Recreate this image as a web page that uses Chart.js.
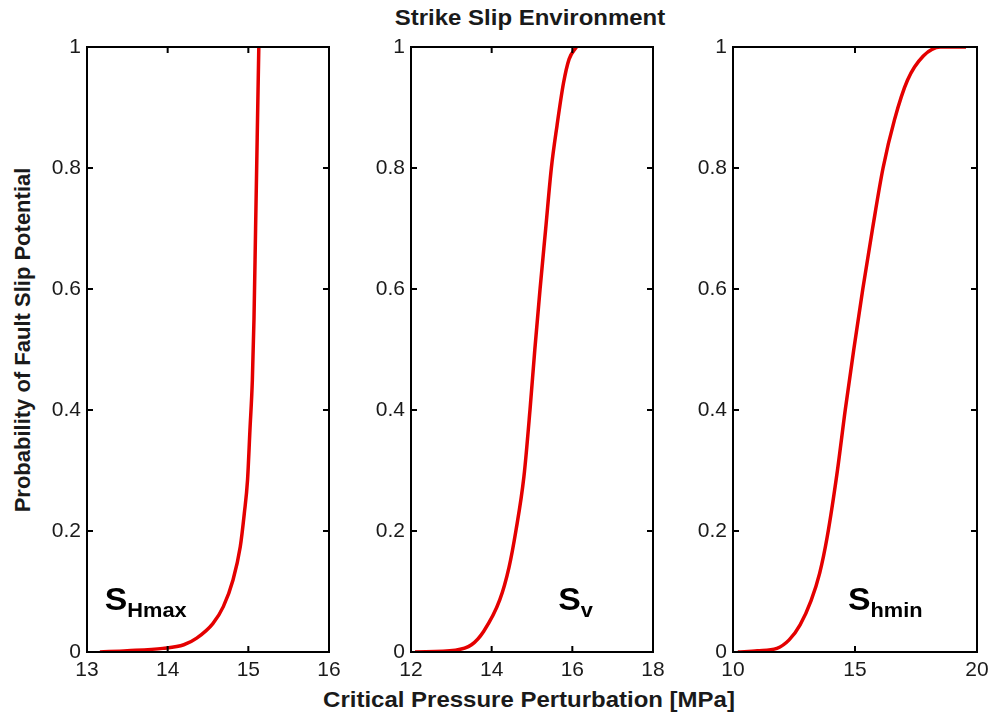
<!DOCTYPE html>
<html>
<head>
<meta charset="utf-8">
<script src="https://cdn.jsdelivr.net/npm/chart.js@4"></script>
<style>
  body { margin: 0; background: #fff; }
  #wrap { position: relative; width: 995px; height: 715px; overflow: hidden; font-family: Arial, "Liberation Sans", sans-serif; }
  canvas { position: absolute; }
  .lbl { position: absolute; font-weight: bold; font-size: 22px; line-height: 22px; color: #1a1a1a; white-space: nowrap; }
</style>
</head>
<body>
<div id="wrap">
  <div class="lbl" id="title" style="left:530px; top:18px; transform: translate(-50%,-50%) scaleX(1.09);">Strike Slip Environment</div>
  <div class="lbl" id="xlabel" style="left:529px; top:700px; transform: translate(-50%,-50%) scaleX(1.09);">Critical Pressure Perturbation [MPa]</div>
  <div class="lbl" id="ylabel" style="left:23px; top:340px; transform: translate(-50%,-50%) rotate(-90deg);">Probability of Fault Slip Potential</div>
  <canvas id="c1"></canvas>
  <canvas id="c2"></canvas>
  <canvas id="c3"></canvas>
</div>
<script>
// values: critical pressure [MPa] vs probability
var shmaxX = [13.16, 13.5, 13.94, 14.2, 14.36, 14.56, 14.69, 14.81, 14.9, 14.95, 14.99, 15.02, 15.05, 15.07, 15.09, 15.11, 15.13];
var shmaxY = [0, 0.002, 0.006, 0.012, 0.023, 0.047, 0.075, 0.119, 0.174, 0.229, 0.284, 0.367, 0.45, 0.55, 0.7, 0.85, 1.0];

var svX = [12.1, 13.1, 13.5, 13.8, 14.2, 14.43, 14.6, 14.8, 14.95, 15.07, 15.2, 15.34, 15.48, 15.62, 15.78, 15.92, 16.1];
var svY = [0, 0.003, 0.012, 0.034, 0.086, 0.14, 0.2, 0.29, 0.4, 0.5, 0.6, 0.7, 0.8, 0.87, 0.94, 0.98, 1.0];

var shminX = [10.2, 11.0, 11.8, 12.3, 12.75, 13.2, 13.55, 13.86, 14.28, 14.6, 14.95, 15.32, 15.72, 16.15, 16.62, 17.15, 17.8, 18.5, 19.55];
var shminY = [0, 0.002, 0.006, 0.02, 0.045, 0.085, 0.13, 0.19, 0.3, 0.4, 0.5, 0.6, 0.7, 0.8, 0.88, 0.945, 0.985, 1.0, 1.0];

var yTicks = [0, 0.2, 0.4, 0.6, 0.8, 1];

var panels = [
  { id: 'c1', xs: shmaxX, ys: shmaxY, min: 13, max: 16, step: 1, left: 87, right: 329, sub: 'Hmax', lx: 13.22 },
  { id: 'c2', xs: svX, ys: svY, min: 12, max: 18, step: 2, left: 411, right: 653, sub: 'v', lx: 15.65 },
  { id: 'c3', xs: shminX, ys: shminY, min: 10, max: 20, step: 5, left: 733, right: 977, sub: 'hmin', lx: 14.71 }
];

var PLOT_TOP = 47, PLOT_BOTTOM = 652, YW = 55, XH = 40, PT = 20, PR = 20;

// box with inward ticks on all four sides, plus the S label
var frame = {
  id: 'frame',
  afterDraw: function(chart) {
    var a = chart.chartArea, ctx = chart.ctx;
    var xs = chart.scales.x, ys = chart.scales.y;
    ctx.save();
    ctx.strokeStyle = '#000';
    ctx.lineWidth = 2;
    ctx.strokeRect(a.left, a.top, a.right - a.left, a.bottom - a.top);
    ctx.beginPath();
    xs.ticks.forEach(function(t) {
      var px = xs.getPixelForValue(t.value);
      ctx.moveTo(px, a.bottom); ctx.lineTo(px, a.bottom - 6);
      ctx.moveTo(px, a.top); ctx.lineTo(px, a.top + 6);
    });
    ys.ticks.forEach(function(t) {
      var py = ys.getPixelForValue(t.value);
      ctx.moveTo(a.left, py); ctx.lineTo(a.left + 6, py);
      ctx.moveTo(a.right, py); ctx.lineTo(a.right - 6, py);
    });
    ctx.stroke();

    var p = chart.options.plugins.frame;
    var lx = xs.getPixelForValue(p.lx), ly = ys.getPixelForValue(0.069);
    ctx.translate(lx, ly);
    ctx.scale(1.09, 1);
    ctx.fillStyle = '#000';
    ctx.textBaseline = 'alphabetic';
    ctx.font = 'bold 31px Arial, "Liberation Sans", sans-serif';
    ctx.fillText('S', 0, 0);
    var w = ctx.measureText('S').width;
    ctx.font = 'bold 20px Arial, "Liberation Sans", sans-serif';
    ctx.fillText(p.sub, w, 7);
    ctx.restore();
  }
};

panels.forEach(function(p) {
  var cv = document.getElementById(p.id);
  var w = p.right - p.left + YW + PR;
  var h = PT + (PLOT_BOTTOM - PLOT_TOP) + XH;
  cv.width = w; cv.height = h;
  cv.style.left = (p.left - YW) + 'px';
  cv.style.top = (PLOT_TOP - PT) + 'px';

  var pts = p.xs.map(function(x, i) { return { x: x, y: p.ys[i] }; });

  new Chart(cv, {
    type: 'scatter',
    data: {
      datasets: [{
        data: pts,
        showLine: true,
        borderColor: '#e40000',
        borderWidth: 3.5,
        pointRadius: 0,
        cubicInterpolationMode: 'monotone'
      }]
    },
    options: {
      responsive: false,
      animation: false,
      events: [],
      layout: { padding: { top: PT, right: PR, left: 0, bottom: 0 } },
      plugins: {
        legend: { display: false },
        tooltip: { enabled: false },
        frame: { sub: p.sub, lx: p.lx }
      },
      scales: {
        x: {
          type: 'linear',
          min: p.min, max: p.max,
          grid: { display: false, drawTicks: false },
          border: { display: false },
          ticks: { stepSize: p.step, padding: 6, color: '#1a1a1a', font: { size: 21, family: 'Arial, "Liberation Sans", sans-serif' }, maxRotation: 0 },
          afterFit: function(s) { s.height = XH; }
        },
        y: {
          min: 0, max: 1,
          grid: { display: false, drawTicks: false },
          border: { display: false },
          afterBuildTicks: function(s) { s.ticks = yTicks.map(function(v) { return { value: v }; }); },
          ticks: {
            padding: 6, color: '#1a1a1a', font: { size: 21, family: 'Arial, "Liberation Sans", sans-serif' },
            callback: function(v) { return String(Math.round(v * 10) / 10); }
          },
          afterFit: function(s) { s.width = YW; }
        }
      }
    },
    plugins: [frame]
  });
});
</script>
</body>
</html>
